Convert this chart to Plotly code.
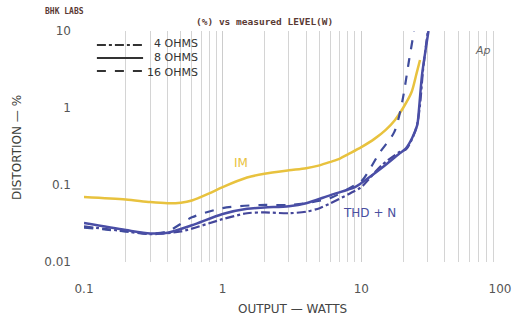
import plotly.graph_objects as go

# ---- data ----
im_x = [0.1, 0.2, 0.3, 0.4, 0.5, 0.6, 0.8, 1.0, 1.5, 2.0, 3.0, 4.0, 5.0, 6.0, 7.0, 8.0, 10.0, 12.5, 15.0, 17.5, 20.0, 23.0, 25.0, 26.5]
im_y = [0.070, 0.065, 0.060, 0.058, 0.059, 0.063, 0.078, 0.094, 0.125, 0.140, 0.155, 0.165, 0.180, 0.200, 0.220, 0.250, 0.310, 0.400, 0.520, 0.700, 1.00, 1.60, 2.80, 4.2]

ohm8_x = [0.1, 0.2, 0.3, 0.4, 0.6, 1.0, 1.5, 2.0, 3.0, 4.0, 6.0, 9.0, 10.0, 14.0, 19.0, 21.0, 23.3, 25.3, 26.1, 27.4, 29.4, 30.5]
ohm8_y = [0.032, 0.026, 0.0235, 0.024, 0.030, 0.042, 0.049, 0.051, 0.053, 0.058, 0.074, 0.094, 0.106, 0.166, 0.26, 0.30, 0.41, 0.60, 1.0, 2.7, 6.5, 10.0]

ohm4_x = [0.1, 0.2, 0.3, 0.5, 1.0, 1.5, 2.0, 3.0, 4.0, 5.0, 6.0, 9.0, 10.0, 14.0, 19.0, 21.0, 23.3, 25.3, 26.5, 27.8, 29.4, 30.2]
ohm4_y = [0.029, 0.025, 0.023, 0.025, 0.036, 0.043, 0.044, 0.043, 0.045, 0.050, 0.058, 0.084, 0.094, 0.180, 0.27, 0.29, 0.40, 0.62, 1.1, 3.0, 7.0, 10.0]

ohm16_x = [0.1, 0.2, 0.3, 0.4, 0.6, 1.0, 1.85, 3.0, 4.0, 6.0, 9.0, 10.2, 13.5, 17.3, 19.7, 22.1, 24.0]
ohm16_y = [0.028, 0.025, 0.0235, 0.025, 0.038, 0.050, 0.055, 0.055, 0.058, 0.068, 0.100, 0.116, 0.26, 0.49, 1.2, 4.2, 10.0]

x_tickvals = [0.1, 1, 10, 100]
x_ticktext = ["0.1", "1", "10", "100"]
y_tickvals = [0.01, 0.1, 1, 10]
y_ticktext = ["0.01", "0.1", "1", "10"]
minor_vals = [m * d for d in (0.1, 1, 10) for m in range(2, 10)]

legend_labels = ["4 OHMS", "8 OHMS", "16 OHMS"]

# ---- styling ----
IM_COLOR = "#e8c23e"
THD_COLOR = "#4a4ea6"
FONT = "DejaVu Sans"

fig = go.Figure()
fig.add_trace(go.Scatter(x=im_x, y=im_y, mode="lines", line=dict(color=IM_COLOR, width=2.5, shape="spline", smoothing=0.8), showlegend=False))
fig.add_trace(go.Scatter(x=ohm4_x, y=ohm4_y, mode="lines", line=dict(color="#44469a", width=2.2, dash="dashdot", shape="spline", smoothing=0.8), showlegend=False))
fig.add_trace(go.Scatter(x=ohm16_x, y=ohm16_y, mode="lines", line=dict(color="#3f4c9c", width=2.2, dash="dash", shape="spline", smoothing=0.8), showlegend=False))
fig.add_trace(go.Scatter(x=ohm8_x, y=ohm8_y, mode="lines", line=dict(color=THD_COLOR, width=2.5, shape="spline", smoothing=0.8), showlegend=False))

# legend drawn as shapes + one right-aligned text block
legend_rows = [0.939, 0.883, 0.827]
legend_dash = ["dashdot", "solid", "dash"]
for row, dash in zip(legend_rows, legend_dash):
    fig.add_shape(type="line", xref="paper", yref="paper", x0=0.031, x1=0.142, y0=row, y1=row,
                  line=dict(color="#333333", width=2, dash=dash))
fig.add_annotation(xref="paper", yref="paper", x=0.279, y=0.883, text="<br>".join(legend_labels),
                   showarrow=False, xanchor="right", yanchor="middle", align="right",
                   font=dict(family=FONT, size=11, color="#333333"))

fig.add_annotation(xref="paper", yref="paper", x=-0.096, y=1.085, text="<b>BHK LABS</b>", showarrow=False,
                   xanchor="left", yanchor="middle", borderpad=0,
                   font=dict(family="DejaVu Sans Mono", size=8, color="#5a3a34"))
fig.add_annotation(xref="paper", yref="paper", x=0.264, y=1.074, text="<b>(%) vs measured LEVEL(W)</b>", showarrow=False,
                   xanchor="left", font=dict(family="DejaVu Sans Mono", size=9.5, color="#5a3a34"))
fig.add_annotation(xref="paper", yref="paper", x=0.377, y=0.429, text="IM", showarrow=False,
                   xanchor="center", font=dict(family=FONT, size=12, color=IM_COLOR))
fig.add_annotation(xref="paper", yref="paper", x=0.618, y=0.173, text="THD + N", showarrow=False,
                   xanchor="left", font=dict(family=FONT, size=12, color="#4a4fa0"))
fig.add_annotation(xref="paper", yref="paper", x=0.959, y=0.952, text="<i>Ap</i>", showarrow=False,
                   xanchor="center", font=dict(family=FONT, size=11, color="#666666"))
fig.add_annotation(xref="paper", yref="paper", x=-0.161, y=0.494, text="DISTORTION — %", textangle=-90, showarrow=False,
                   xanchor="center", yanchor="middle", font=dict(family=FONT, size=12, color="#3c4038"))
fig.add_annotation(xref="paper", yref="paper", x=0.5, y=-0.242, text="OUTPUT — WATTS", showarrow=False,
                   xanchor="center", font=dict(family=FONT, size=12, color="#444444"))

fig.update_xaxes(type="log", range=[-1, 2], tickvals=x_tickvals, ticktext=x_ticktext,
                 showgrid=True, gridcolor="#cccccc", gridwidth=1, zeroline=False, showline=False,
                 ticks="", ticklabelstandoff=18, automargin=False,
                 tickfont=dict(family=FONT, size=12, color="#555555"),
                 minor=dict(tickvals=minor_vals, showgrid=True, gridcolor="#d4d4d4", gridwidth=1))
fig.update_yaxes(type="log", range=[-2, 1], tickvals=y_tickvals, ticktext=y_ticktext,
                 showgrid=False, zeroline=False, showline=False, ticks="", ticklabelstandoff=12,
                 automargin=False,
                 tickfont=dict(family=FONT, size=12, color="#555555"))

fig.update_layout(width=513, height=326, margin=dict(l=84, r=13, t=31, b=64, autoexpand=False),
                  paper_bgcolor="white", plot_bgcolor="white", showlegend=False)

fig.write_html("out.html", config={"displayModeBar": False},
               post_script="document.body.style.margin='0';document.body.style.overflow='hidden';")
